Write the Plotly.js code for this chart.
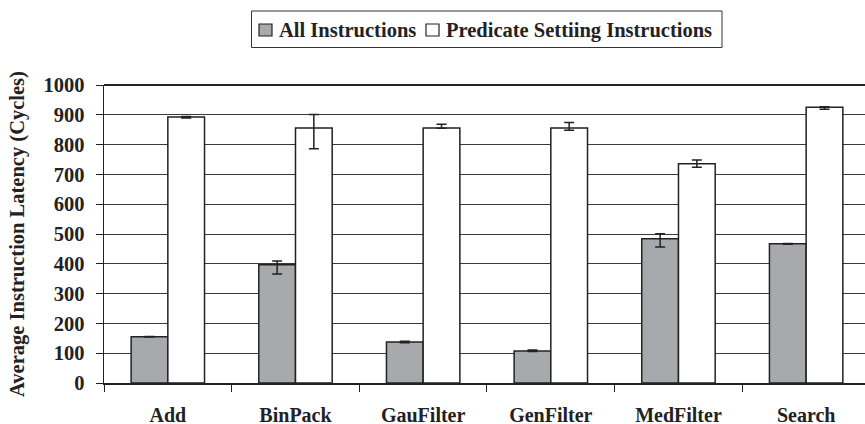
<!DOCTYPE html>
<html>
<head>
<meta charset="utf-8">
<script src="https://cdn.plot.ly/plotly-3.0.1.min.js"></script>
<style>html,body{margin:0;padding:0;background:#fff;}#chart{width:865px;height:424px;}</style>
</head>
<body>
<div id="chart"></div>
<script>
const categories = ["Add", "BinPack", "GauFilter", "GenFilter", "MedFilter", "Search"];
const seriesNames = ["All Instructions", "Predicate Settiing Instructions"];
const allInstr = [155, 397, 138, 107, 484, 467];
const allPlus = [1, 12, 2, 4, 17, 1];
const allMinus = [1, 31, 3, 1, 28, 1];
const predInstr = [893, 856, 856, 856, 736, 925];
const predPlus = [1, 45, 12, 18, 12, 2];
const predMinus = [4, 70, 1, 8, 12, 6];
const yTicks = [0, 100, 200, 300, 400, 500, 600, 700, 800, 900, 1000];

const FONT = "Liberation Serif, Times New Roman, serif";
const ink = "#222";
const colors = ["#a7a9ac", "#ffffff"];

const traces = [
  {
    type: "bar", name: seriesNames[0], x: categories, y: allInstr,
    marker: {color: colors[0], line: {color: ink, width: 1.5}},
    error_y: {type: "data", symmetric: false, array: allPlus, arrayminus: allMinus,
              color: ink, thickness: 1.5, width: 5}
  },
  {
    type: "bar", name: seriesNames[1], x: categories, y: predInstr,
    marker: {color: colors[1], line: {color: ink, width: 1.5}},
    error_y: {type: "data", symmetric: false, array: predPlus, arrayminus: predMinus,
              color: ink, thickness: 1.5, width: 5}
  }
];

// plot area in pixels (for placing the hand-built legend)
const L = 104, R = 865, T = 85, B = 383;
const px = v => (v - L) / (R - L);
const py = v => (B - v) / (B - T);

const shapes = [
  {type: "line", xref: "paper", yref: "paper", x0: 0, x1: 1, y0: 1, y1: 1, line: {color: ink, width: 2}},
  // legend box
  {type: "rect", xref: "paper", yref: "paper", x0: px(251.5), x1: px(722), y0: py(11), y1: py(47.5),
   line: {color: "#333", width: 1}, fillcolor: "#fff"},
  // legend swatches
  {type: "rect", xref: "paper", yref: "paper", x0: px(259), x1: px(272), y0: py(24), y1: py(36),
   line: {color: ink, width: 1.2}, fillcolor: colors[0]},
  {type: "rect", xref: "paper", yref: "paper", x0: px(426), x1: px(439), y0: py(24), y1: py(36),
   line: {color: ink, width: 1.2}, fillcolor: colors[1]}
];

const legFont = {family: FONT, size: 20.5, weight: "bold", color: ink};
const annotations = [
  {xref: "paper", yref: "paper", x: px(277), y: py(30), xanchor: "left", yanchor: "middle",
   text: seriesNames[0], showarrow: false, font: legFont},
  {xref: "paper", yref: "paper", x: px(444), y: py(30), xanchor: "left", yanchor: "middle",
   text: seriesNames[1], showarrow: false, font: legFont}
];

const layout = {
  width: 865, height: 424,
  margin: {l: L, r: 865 - R, t: T, b: 424 - B},
  paper_bgcolor: "#fff", plot_bgcolor: "#fff",
  font: {family: FONT, color: ink, size: 20, weight: "bold"},
  barmode: "group", bargap: 0.425, bargroupgap: 0,
  showlegend: false,
  xaxis: {
    type: "category", range: [-0.5, 5.461],
    tickson: "boundaries", ticks: "outside", ticklen: 7, tickcolor: ink, tickwidth: 1,
    showline: true, linecolor: ink, linewidth: 1.5, mirror: false,
    showgrid: false, ticklabelstandoff: 13,
    tickfont: {family: FONT, size: 20, weight: "bold", color: ink}
  },
  yaxis: {
    range: [0, 1000], tickvals: yTicks, ticktext: yTicks.map(String),
    ticks: "outside", ticklen: 7, tickcolor: ink, tickwidth: 1,
    showline: true, linecolor: ink, linewidth: 1.5,
    showgrid: true, gridcolor: "#3a3a3a", gridwidth: 1, zeroline: false,
    ticklabelstandoff: 7,
    tickfont: {family: FONT, size: 20.5, weight: "bold", color: ink},
    title: {text: "Average Instruction Latency (Cycles)", standoff: 13,
            font: {family: FONT, size: 20.5, weight: "bold", color: ink}}
  },
  shapes: shapes,
  annotations: annotations
};

Plotly.newPlot("chart", traces, layout, {displayModeBar: false, staticPlot: true});
</script>
</body>
</html>
